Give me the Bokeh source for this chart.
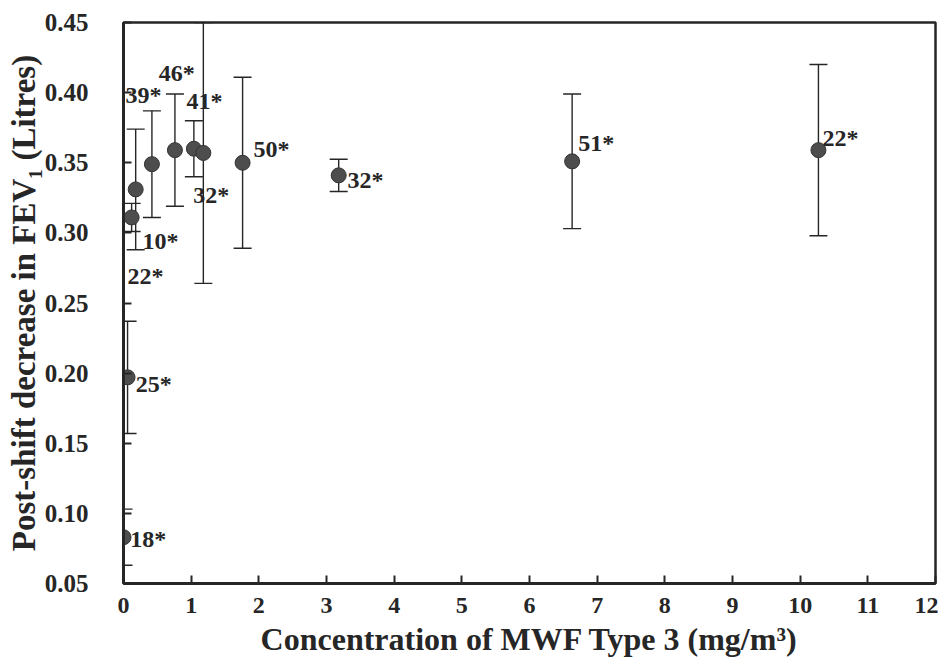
from bokeh.plotting import figure
from bokeh.models import Range1d, FixedTicker, Whisker, ColumnDataSource, TeeHead
from bokeh.core.properties import value
from bokeh.embed import file_html
from bokeh.resources import INLINE

# Data
conc = [0.0, 0.06, 0.12, 0.18, 0.42, 0.76, 1.04, 1.18, 1.76, 3.18, 6.63, 10.27]
fev_drop = [0.083, 0.197, 0.311, 0.331, 0.349, 0.359, 0.360, 0.357, 0.350, 0.341, 0.351, 0.359]
half_err = [0.020, 0.040, 0.010, 0.043, 0.038, 0.040, 0.020, 0.093, 0.061, 0.0115, 0.048, 0.061]

label_text = ["18*", "25*", "22*", "10*", "39*", "46*", "41*", "32*", "50*", "32*", "51*", "22*"]
label_x = [0.10, 0.18, 0.06, 0.28, 0.03, 0.52, 0.93, 1.03, 1.92, 3.31, 6.72, 10.33]
label_y = [0.082, 0.1925, 0.269, 0.294, 0.398, 0.414, 0.394, 0.327, 0.360, 0.338, 0.364, 0.368]

x_ticks = list(range(0, 13))
y_ticks = [0.05, 0.10, 0.15, 0.20, 0.25, 0.30, 0.35, 0.40, 0.45]
y_tick_labels = ["0.05", "0.10", "0.15", "0.20", "0.25", "0.30", "0.35", "0.40", "0.45"]

FONT = "Liberation Serif"
INK = "#262626"

lower = [v - e for v, e in zip(fev_drop, half_err)]
upper = [v + e for v, e in zip(fev_drop, half_err)]
src = ColumnDataSource(dict(x=conc, y=fev_drop, lo=lower, hi=upper))
lab = ColumnDataSource(dict(x=label_x, y=label_y, t=label_text))

p = figure(width=938, height=664, output_backend="svg", toolbar_location=None,
           x_range=Range1d(0, 12), y_range=Range1d(0.05, 0.45),
           min_border_left=123, min_border_right=3, min_border_top=22, min_border_bottom=81)

p.xgrid.grid_line_color = None
p.ygrid.grid_line_color = None
p.outline_line_color = INK
p.outline_line_width = 2.5

w = Whisker(source=src, base="x", lower="lo", upper="hi", dimension="height",
            line_color=INK, line_width=1.4,
            upper_head=TeeHead(size=18, line_color=INK, line_width=1.4),
            lower_head=TeeHead(size=18, line_color=INK, line_width=1.4))
p.add_layout(w)

p.scatter("x", "y", source=src, size=15, fill_color="#4d4d4d", line_color="#333333", line_width=1)

p.text("x", "y", text="t", source=lab, text_font=value(FONT), text_font_style="bold",
       text_font_size="24px", text_color=INK, text_align="left", text_baseline="middle")

p.xaxis.ticker = FixedTicker(ticks=x_ticks)
p.yaxis.ticker = FixedTicker(ticks=y_ticks)
p.yaxis.major_label_overrides = {t: s for t, s in zip(y_ticks, y_tick_labels)}

for ax in (p.xaxis, p.yaxis):
    ax.axis_line_width = 3
    ax.axis_line_color = INK
    ax.major_tick_in = 8
    ax.major_tick_out = 0
    ax.major_tick_line_width = 2
    ax.major_tick_line_color = INK
    ax.minor_tick_line_color = None
    ax.major_label_text_font = FONT
    ax.major_label_text_font_style = "bold"
    ax.major_label_text_color = INK
    ax.axis_label_text_font = FONT
    ax.axis_label_text_font_style = "bold"
    ax.axis_label_text_color = INK

p.yaxis.major_label_text_font_size = "25px"
p.xaxis.major_label_text_font_size = "24px"
p.xaxis.axis_label_text_font_size = "32px"
p.yaxis.axis_label_text_font_size = "33px"
p.xaxis.axis_label = "Concentration of MWF Type 3 (mg/m\u00b3)"
p.yaxis.axis_label = "Post-shift decrease in FEV\u2081 (Litres)"
p.xaxis.major_label_standoff = 14
p.yaxis.major_label_standoff = 35
p.xaxis.axis_label_standoff = 5
p.yaxis.axis_label_standoff = 0

open("out.html", "w").write(file_html(p, INLINE))
